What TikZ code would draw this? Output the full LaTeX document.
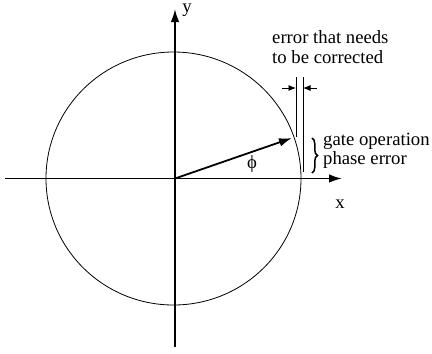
\documentclass[tikz,border=0pt]{standalone}
\usepackage{fontspec}
\setmainfont{Liberation Serif}
\usetikzlibrary{arrows.meta,decorations.pathreplacing}
\begin{document}
\begin{tikzpicture}[x=1bp,y=-1bp,
  lbl/.style={font=\fontsize{18.7bp}{20bp}\selectfont, inner sep=0pt, anchor=base west},
  axis/.style={line width=1.8bp,-{Latex[length=13bp,width=8.5bp]}},
  thin/.style={line width=0.8bp},
  small/.style={line width=0.8bp,-{Latex[length=7.5bp,width=6bp]}}]
\useasboundingbox (0,0) rectangle (432,354);
\coordinate (O) at (175,178.5);
\coordinate (C) at (173.5,178.5);
\coordinate (xl) at (5,178.5);
\coordinate (xr) at (342,178.5);
\coordinate (yb) at (175,347);
\coordinate (yt) at (175,9);
\draw[axis] (xl) -- (xr);
\draw[axis] (yb) -- (yt);
\draw[thin] (C) ellipse[x radius=127.5, y radius=126.5];
\coordinate (P) at (292,138);
\draw[axis] (O) -- (P);
\coordinate (L1t) at (296,77);
\coordinate (L1b) at (296,137);
\coordinate (L2t) at (303,77);
\coordinate (L2b) at (303,172);
\draw[thin] (L1t) -- (L1b);
\draw[thin] (L2t) -- (L2b);
\coordinate (a1) at (282,88);
\coordinate (a1e) at (296,88);
\coordinate (a2) at (317,88);
\coordinate (a2e) at (303,88);
\draw[small] (a1) -- (a1e);
\draw[small] (a2) -- (a2e);
\coordinate (b1) at (312,138);
\coordinate (b2) at (312,173);
\draw[line width=1.5bp,decorate,decoration={brace,amplitude=5.5bp}] (b1) -- (b2);
\node[lbl,anchor=center] (phi) at (252,164) {ϕ};
\node[lbl,anchor=base] (xlab) at (340,208) {x};
\node[lbl,anchor=base] (ylab) at (187,12.5) {y};
\node[lbl] (err1) at (272,43) {error that needs};
\node[lbl] (err2) at (272,63.5) {to be corrected};
\node[lbl] (gate1) at (323,145.5) {gate operation};
\node[lbl] (gate2) at (323,164.5) {phase error};
\end{tikzpicture}
\end{document}
